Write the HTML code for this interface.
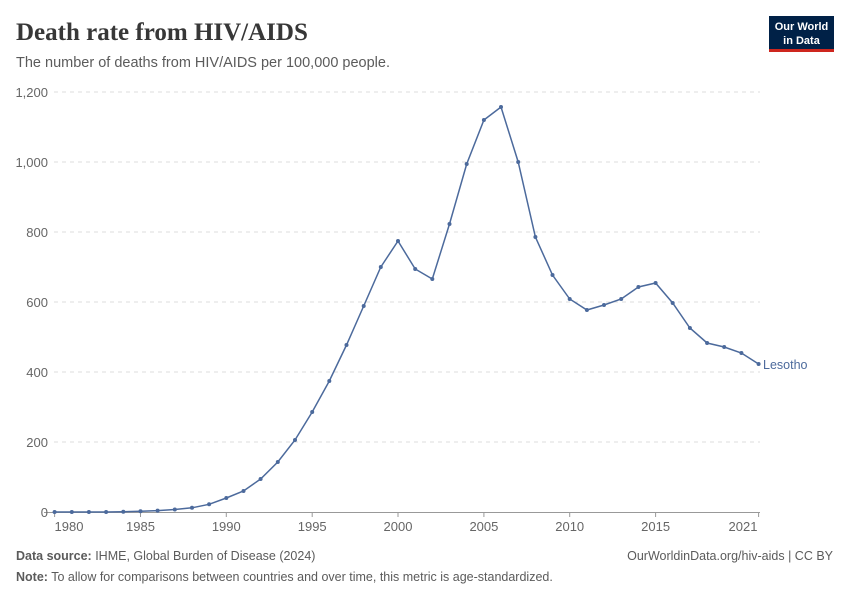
<!DOCTYPE html>
<html><head><meta charset="utf-8"><style>
body{margin:0;background:#fff;width:850px;height:600px;overflow:hidden;font-family:"Liberation Sans",sans-serif}
</style></head><body>
<svg width="850" height="600" xmlns="http://www.w3.org/2000/svg" font-family="Liberation Sans, sans-serif">
<text x="16" y="40" font-family="Liberation Serif, serif" font-size="25" font-weight="bold" fill="#373737">Death rate from HIV/AIDS</text>
<text x="16" y="67" font-size="14.5" fill="#5b5b5b">The number of deaths from HIV/AIDS per 100,000 people.</text>
<rect x="769" y="16" width="65" height="34" fill="#002147"/>
<rect x="769" y="49" width="65" height="3" fill="#ce261e"/>
<text x="801.5" y="30" font-size="11" font-weight="bold" fill="#fff" text-anchor="middle">Our World</text>
<text x="801.5" y="44" font-size="11" font-weight="bold" fill="#fff" text-anchor="middle">in Data</text>
<g stroke="#ddd" stroke-dasharray="4,4">
<line x1="54" x2="760" y1="92" y2="92"/><line x1="54" x2="760" y1="162" y2="162"/><line x1="54" x2="760" y1="232" y2="232"/><line x1="54" x2="760" y1="302" y2="302"/><line x1="54" x2="760" y1="372" y2="372"/><line x1="54" x2="760" y1="442" y2="442"/>
</g>
<line x1="44" x2="760" y1="512.5" y2="512.5" stroke="#999"/>
<g font-size="13" fill="#666" text-anchor="end">
<text x="48" y="97">1,200</text><text x="48" y="167">1,000</text><text x="48" y="237">800</text><text x="48" y="307">600</text><text x="48" y="377">400</text><text x="48" y="447">200</text><text x="48" y="517">0</text>
</g>
<g stroke="#999"><line x1="54.6" x2="54.6" y1="512" y2="517"/><line x1="140.5" x2="140.5" y1="512" y2="517"/><line x1="226.3" x2="226.3" y1="512" y2="517"/><line x1="312.2" x2="312.2" y1="512" y2="517"/><line x1="398" x2="398" y1="512" y2="517"/><line x1="483.9" x2="483.9" y1="512" y2="517"/><line x1="569.7" x2="569.7" y1="512" y2="517"/><line x1="655.6" x2="655.6" y1="512" y2="517"/><line x1="758.6" x2="758.6" y1="512" y2="517"/></g>
<g font-size="13" fill="#666" text-anchor="middle">
<text x="69" y="531">1980</text><text x="140.5" y="531">1985</text><text x="226.3" y="531">1990</text><text x="312.2" y="531">1995</text><text x="398" y="531">2000</text><text x="483.9" y="531">2005</text><text x="569.7" y="531">2010</text><text x="655.6" y="531">2015</text><text x="743" y="531">2021</text>
</g>
<polyline fill="none" stroke="#4c6a9c" stroke-width="1.5" points="54.6,512 71.8,512 88.9,512 106.1,512 123.3,511.7 140.5,511.3 157.6,510.6 174.8,509.5 192,507.8 209.1,504.3 226.3,498 243.5,491 260.6,479 277.8,462 295,440 312.2,412 329.3,381 346.5,345 363.7,306 380.8,267 398,241 415.2,269 432.3,279 449.5,224 466.7,164 483.9,120 501,107 518.2,162 535.4,237 552.5,275 569.7,299 586.9,310 604,305 621.2,299 638.4,287 655.6,283 672.7,303 689.9,328 707.1,343 724.2,347 741.4,353 758.6,364"/>
<g fill="#4c6a9c">
<circle cx="54.6" cy="512" r="2"/><circle cx="71.8" cy="512" r="2"/><circle cx="88.9" cy="512" r="2"/><circle cx="106.1" cy="512" r="2"/><circle cx="123.3" cy="511.7" r="2"/><circle cx="140.5" cy="511.3" r="2"/><circle cx="157.6" cy="510.6" r="2"/><circle cx="174.8" cy="509.5" r="2"/><circle cx="192" cy="507.8" r="2"/><circle cx="209.1" cy="504.3" r="2"/><circle cx="226.3" cy="498" r="2"/><circle cx="243.5" cy="491" r="2"/><circle cx="260.6" cy="479" r="2"/><circle cx="277.8" cy="462" r="2"/><circle cx="295" cy="440" r="2"/><circle cx="312.2" cy="412" r="2"/><circle cx="329.3" cy="381" r="2"/><circle cx="346.5" cy="345" r="2"/><circle cx="363.7" cy="306" r="2"/><circle cx="380.8" cy="267" r="2"/><circle cx="398" cy="241" r="2"/><circle cx="415.2" cy="269" r="2"/><circle cx="432.3" cy="279" r="2"/><circle cx="449.5" cy="224" r="2"/><circle cx="466.7" cy="164" r="2"/><circle cx="483.9" cy="120" r="2"/><circle cx="501" cy="107" r="2"/><circle cx="518.2" cy="162" r="2"/><circle cx="535.4" cy="237" r="2"/><circle cx="552.5" cy="275" r="2"/><circle cx="569.7" cy="299" r="2"/><circle cx="586.9" cy="310" r="2"/><circle cx="604" cy="305" r="2"/><circle cx="621.2" cy="299" r="2"/><circle cx="638.4" cy="287" r="2"/><circle cx="655.6" cy="283" r="2"/><circle cx="672.7" cy="303" r="2"/><circle cx="689.9" cy="328" r="2"/><circle cx="707.1" cy="343" r="2"/><circle cx="724.2" cy="347" r="2"/><circle cx="741.4" cy="353" r="2"/><circle cx="758.6" cy="364" r="2"/>
</g>
<text x="763" y="369" font-size="12.5" fill="#4c6a9c">Lesotho</text>
<text x="16" y="560" font-size="12.5" fill="#5b5b5b"><tspan font-weight="bold">Data source:</tspan> IHME, Global Burden of Disease (2024)</text>
<text x="833" y="560" font-size="12.5" fill="#5b5b5b" text-anchor="end">OurWorldinData.org/hiv-aids | CC BY</text>
<text x="16" y="581" font-size="12.5" fill="#5b5b5b"><tspan font-weight="bold">Note:</tspan> To allow for comparisons between countries and over time, this metric is age-standardized.</text>
</svg>
</body></html>
